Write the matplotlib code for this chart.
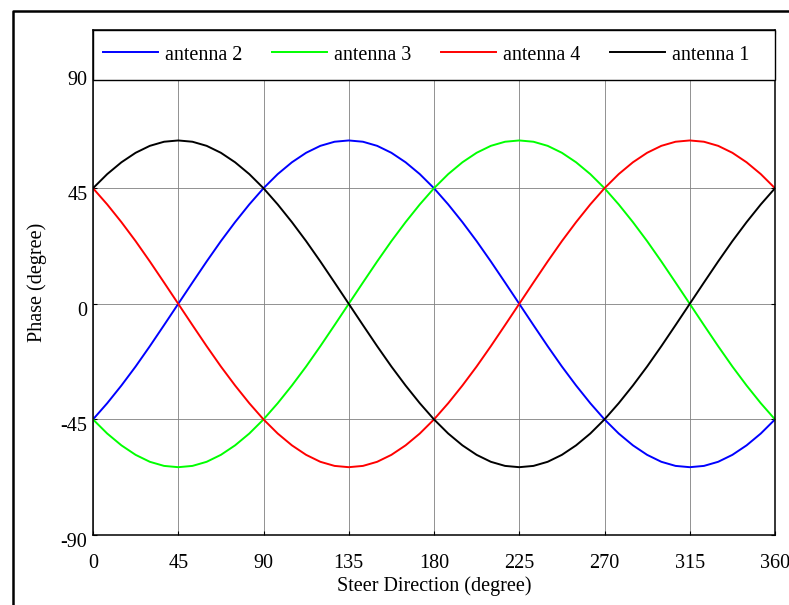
import matplotlib

matplotlib.use("Agg")
import matplotlib.pyplot as plt
import matplotlib.transforms as mtransforms
from matplotlib.lines import Line2D
from matplotlib.patches import Rectangle

# steer direction (deg), sampled every 7.5 deg
steer = [0, 7.5, 15, 22.5, 30, 37.5, 45, 52.5, 60, 67.5, 75, 82.5,
         90, 97.5, 105, 112.5, 120, 127.5, 135, 142.5, 150, 157.5, 165, 172.5,
         180, 187.5, 195, 202.5, 210, 217.5, 225, 232.5, 240, 247.5, 255, 262.5,
         270, 277.5, 285, 292.5, 300, 307.5, 315, 322.5, 330, 337.5, 345, 352.5,
         360]

# phase (deg)
ant2 = [-45.0, -38.7, -31.8, -24.4, -16.5, -8.3, 0.0, 8.3, 16.5, 24.4, 31.8, 38.7,
        45.0, 50.5, 55.1, 58.8, 61.5, 63.1, 63.6, 63.1, 61.5, 58.8, 55.1, 50.5,
        45.0, 38.7, 31.8, 24.4, 16.5, 8.3, 0.0, -8.3, -16.5, -24.4, -31.8, -38.7,
        -45.0, -50.5, -55.1, -58.8, -61.5, -63.1, -63.6, -63.1, -61.5, -58.8, -55.1, -50.5,
        -45.0]
ant3 = [-45.0, -50.5, -55.1, -58.8, -61.5, -63.1, -63.6, -63.1, -61.5, -58.8, -55.1, -50.5,
        -45.0, -38.7, -31.8, -24.4, -16.5, -8.3, 0.0, 8.3, 16.5, 24.4, 31.8, 38.7,
        45.0, 50.5, 55.1, 58.8, 61.5, 63.1, 63.6, 63.1, 61.5, 58.8, 55.1, 50.5,
        45.0, 38.7, 31.8, 24.4, 16.5, 8.3, 0.0, -8.3, -16.5, -24.4, -31.8, -38.7,
        -45.0]
ant4 = [45.0, 38.7, 31.8, 24.4, 16.5, 8.3, 0.0, -8.3, -16.5, -24.4, -31.8, -38.7,
        -45.0, -50.5, -55.1, -58.8, -61.5, -63.1, -63.6, -63.1, -61.5, -58.8, -55.1, -50.5,
        -45.0, -38.7, -31.8, -24.4, -16.5, -8.3, 0.0, 8.3, 16.5, 24.4, 31.8, 38.7,
        45.0, 50.5, 55.1, 58.8, 61.5, 63.1, 63.6, 63.1, 61.5, 58.8, 55.1, 50.5,
        45.0]
ant1 = [45.0, 50.5, 55.1, 58.8, 61.5, 63.1, 63.6, 63.1, 61.5, 58.8, 55.1, 50.5,
        45.0, 38.7, 31.8, 24.4, 16.5, 8.3, 0.0, -8.3, -16.5, -24.4, -31.8, -38.7,
        -45.0, -50.5, -55.1, -58.8, -61.5, -63.1, -63.6, -63.1, -61.5, -58.8, -55.1, -50.5,
        -45.0, -38.7, -31.8, -24.4, -16.5, -8.3, 0.0, 8.3, 16.5, 24.4, 31.8, 38.7,
        45.0]

series = [("antenna 2", ant2, "#0000ff"), ("antenna 3", ant3, "#00ff00"),
          ("antenna 4", ant4, "#ff0000"), ("antenna 1", ant1, "#000000")]

x_ticks = [0, 45, 90, 135, 180, 225, 270, 315, 360]
y_ticks = [-90, -45, 0, 45, 90]

plt.rcParams.update({
    "font.family": ["Liberation Serif", "DejaVu Serif"],
    "font.size": 14.5,
    "axes.unicode_minus": False,
})

W, H = 789, 605
fig = plt.figure(figsize=(W / 100, H / 100), dpi=100)
ax = fig.add_axes([93 / W, 1 - 535 / H, (775 - 93) / W, (535 - 30) / H])

for label, ys, color in series:
    ax.plot(steer, ys, color=color, lw=1.4, label=label, zorder=2)

ax.set_xlim(0, 360)
ax.set_ylim(-90, 106.6)
ax.set_xticks(x_ticks)
ax.set_yticks(y_ticks)
ax.grid(True, color="0.5", lw=0.6)
ax.set_axisbelow(True)
ax.tick_params(direction="in", length=3, top=True, right=True, width=0.8)
ax.tick_params(axis="x", pad=14)
ax.tick_params(axis="y", pad=4)
for sp in ax.spines.values():
    sp.set_linewidth(1.1)

# MATLAB-style: y tick labels sit a bit below their ticks
shift = mtransforms.ScaledTranslation(0, -5 / 100, fig.dpi_scale_trans)
for lbl in ax.get_yticklabels():
    lbl.set_transform(lbl.get_transform() + shift)

ax.set_xlabel("Steer Direction (degree)", labelpad=2)
ax.set_ylabel("Phase (degree)", labelpad=10)

# legend strip across the top of the axes
leg_bottom = (535 - 80) / (535 - 30)
ax.add_patch(Rectangle((0, leg_bottom), 1, 1 - leg_bottom, transform=ax.transAxes,
                       facecolor="white", edgecolor="black", lw=1.0, zorder=3,
                       clip_on=False))
leg = ax.legend(loc="center left", bbox_to_anchor=(10 / 682, (1 + leg_bottom) / 2),
                ncol=4, frameon=False, borderpad=0, borderaxespad=0,
                handlelength=2.75, handletextpad=0.35, columnspacing=1.45)
leg.set_zorder(4)

# page frame (left and top edges)
fig.add_artist(Line2D([13 / W, 13 / W, 1], [0, 1 - 11 / H, 1 - 11 / H],
                      transform=fig.transFigure, color="black", lw=1.8))

fig.savefig("out.png", dpi=100)
